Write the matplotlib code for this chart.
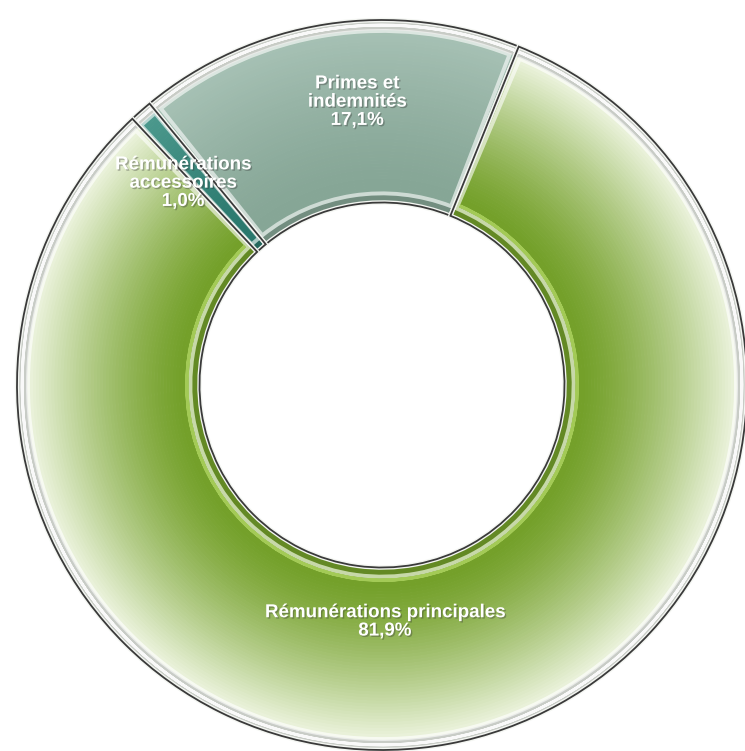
import matplotlib
matplotlib.use('Agg')
from matplotlib import pyplot as plt
from matplotlib.patches import Wedge
import matplotlib.patheffects as pe
import numpy as np

# data
names = ['Primes et\nindemnités', 'Rémunérations\naccessoires', 'Rémunérations principales']
values = [17.1, 1.0, 81.9]

# style
inner_cols = ['#86a696', '#2a786d', '#74a02a']
outer_cols = ['#a9c3b7', '#4f9c90', '#f7fbee']
label_pos = [(-0.068, 0.775), (-0.545, 0.553), (0.008, -0.649)]
start = 68
r_out, r_in = 1.0, 0.5

plt.rcParams['font.family'] = ['Liberation Sans', 'DejaVu Sans']

fig = plt.figure(figsize=(7.45, 7.51), dpi=100)
ax = fig.add_axes([0, 0, 1, 1])


def mix(c1, c2, t):
    a = np.array(matplotlib.colors.to_rgb(c1))
    b = np.array(matplotlib.colors.to_rgb(c2))
    return tuple(a + (b - a) * t)


# radial gradient: many thin rings
n = 60
edges = np.linspace(r_in, r_out, n + 1)
wedges = None
for i in range(n):
    r = edges[i + 1]
    t = ((edges[i] + edges[i + 1]) / 2 - r_in) / (r_out - r_in)
    t = max(t - 0.1, 0) / 0.9
    cols = [mix(a, b, t ** 1.3) for a, b in zip(inner_cols, outer_cols)]
    w, _ = ax.pie(values, radius=r, startangle=start, counterclock=True,
                  colors=cols, wedgeprops=dict(width=edges[1] - edges[0] + 0.002, linewidth=0))
    if wedges is None:
        wedges = w

# rims and bevels for each slice
for w in wedges:
    t1, t2 = w.theta1, w.theta2
    # grey outer rim
    ax.add_patch(Wedge((0, 0), r_out, t1, t2, width=0.028, facecolor='#c8ccc6', edgecolor='none'))
    ax.add_patch(Wedge((0, 0), r_out - 0.014, t1, t2, width=0.0, facecolor='none',
                       edgecolor='#ffffff', lw=2, alpha=0.9))
    # darker inner rim
    ax.add_patch(Wedge((0, 0), r_in + 0.02, t1, t2, width=0.02, facecolor='#000000',
                       edgecolor='none', alpha=0.14))
    # inset bevel line
    d = 0.9 if (t2 - t1) > 5 else 0.3
    ax.add_patch(Wedge((0, 0), r_out - 0.03, t1 + d, t2 - d, width=r_out - r_in - 0.055,
                       facecolor='none', edgecolor='#ffffff', lw=2.8, alpha=0.6))
    # separators / outline
    ax.add_patch(Wedge((0, 0), r_out, t1, t2, width=r_out - r_in, facecolor='none',
                       edgecolor='#f4f6f2', lw=3.2))
    ax.add_patch(Wedge((0, 0), r_out, t1, t2, width=r_out - r_in, facecolor='none',
                       edgecolor='#3a3a3a', lw=1.3))

# light green highlight ring near the hole of the main slice
w = wedges[2]
ax.add_patch(Wedge((0, 0), r_in + 0.035, w.theta1 + 1.5, w.theta2 - 1.5, width=0.0,
                   facecolor='none', edgecolor='#a9cf5c', lw=2.2, alpha=0.9))

# labels
shadow = [pe.SimplePatchShadow(offset=(1, -1), shadow_rgbFace='#333333', alpha=0.35), pe.Normal()]
for nm, v, (x, y) in zip(names, values, label_pos):
    txt = nm + '\n' + f'{v:.1f}%'.replace('.', ',')
    ax.text(x, y, txt, ha='center', va='center', color='white', fontsize=13.5,
            fontweight='bold', linespacing=1.1, path_effects=shadow)

# pie() resets limits and aspect, so set them last
ax.set_aspect('auto')
ax.set_xlim(-382 / 365, (745 - 382) / 365)
ax.set_ylim(-(751 - 385) / 365, 385 / 365)
ax.axis('off')

fig.savefig('out.png', dpi=100, facecolor='white')
